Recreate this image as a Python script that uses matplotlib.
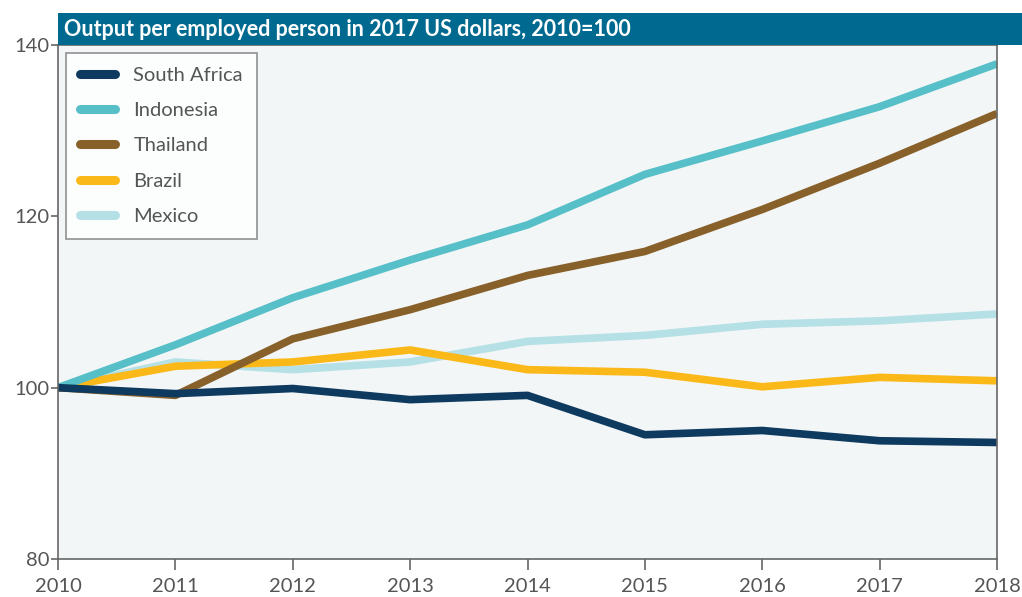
import numpy as np
import matplotlib.pyplot as plt
from matplotlib.patches import Rectangle

years = [2010, 2011, 2012, 2013, 2014, 2015, 2016, 2017, 2018]
south_africa = [100, 99.3, 99.9, 98.6, 99.1, 94.5, 95.0, 93.8, 93.6]
indonesia = [100, 105.0, 110.5, 114.9, 119.0, 124.9, 128.8, 132.8, 137.8]
thailand = [100, 99.1, 105.7, 109.1, 113.1, 115.9, 120.8, 126.2, 132.0]
brazil = [100, 102.5, 103.0, 104.4, 102.1, 101.8, 100.1, 101.2, 100.8]
mexico = [100, 103.0, 102.1, 103.0, 105.4, 106.1, 107.4, 107.8, 108.6]

series = [
    ("South Africa", south_africa, "#0f3a5f"),
    ("Indonesia", indonesia, "#56bfc8"),
    ("Thailand", thailand, "#87602a"),
    ("Brazil", brazil, "#fbb919"),
    ("Mexico", mexico, "#b5e0e6"),
]

plt.rcParams['font.family'] = ['Lato', 'DejaVu Sans']
fig = plt.figure(figsize=(10.22, 5.97), dpi=100)
ax = fig.add_axes([0.0568, 0.0637, 0.9187, 0.8609])
ax.set_facecolor("#f3f6f7")

# draw in reverse so South Africa sits on top
for name, vals, col in reversed(series):
    ax.plot(years, vals, color=col, lw=5.5, solid_capstyle='butt', label=name)

ax.set_xlim(2010, 2018)
ax.set_ylim(80, 140)
ax.set_xticks(years)
ax.set_yticks([80, 100, 120, 140])
ax.tick_params(axis='x', length=8, width=1.2, color="#666666", labelsize=14.5, labelcolor="#555555", pad=6)
ax.tick_params(axis='y', length=5, width=1.2, color="#666666", labelsize=14.5, labelcolor="#555555", pad=1)
for s in ax.spines.values():
    s.set_color("#666666")
    s.set_linewidth(1.2)

handles, labels = ax.get_legend_handles_labels()
leg = ax.legend(handles[::-1], labels[::-1], loc='upper left', bbox_to_anchor=(0.0085, 0.985),
                fontsize=14.5, frameon=True, fancybox=False, handlelength=1.75,
                labelspacing=0.9, borderpad=0.7, handletextpad=0.9, borderaxespad=0)
leg.get_frame().set_edgecolor("#777777")
leg.get_frame().set_linewidth(1.2)
for t in leg.get_texts():
    t.set_color("#555555")
for h in leg.get_lines():
    h.set_solid_capstyle('round')
    h.set_linewidth(6.5)

# header band
fig.patches.append(Rectangle((0.0568, 0.9246), 1 - 0.0568, 0.0536, transform=fig.transFigure,
                             facecolor="#00698f", edgecolor='none'))
fig.text(0.063, 0.951, "Output per employed person in 2017 US dollars, 2010=100",
         color="white", fontsize=15.5, fontweight='bold', va='center', ha='left')

fig.savefig("out.png", dpi=100)
